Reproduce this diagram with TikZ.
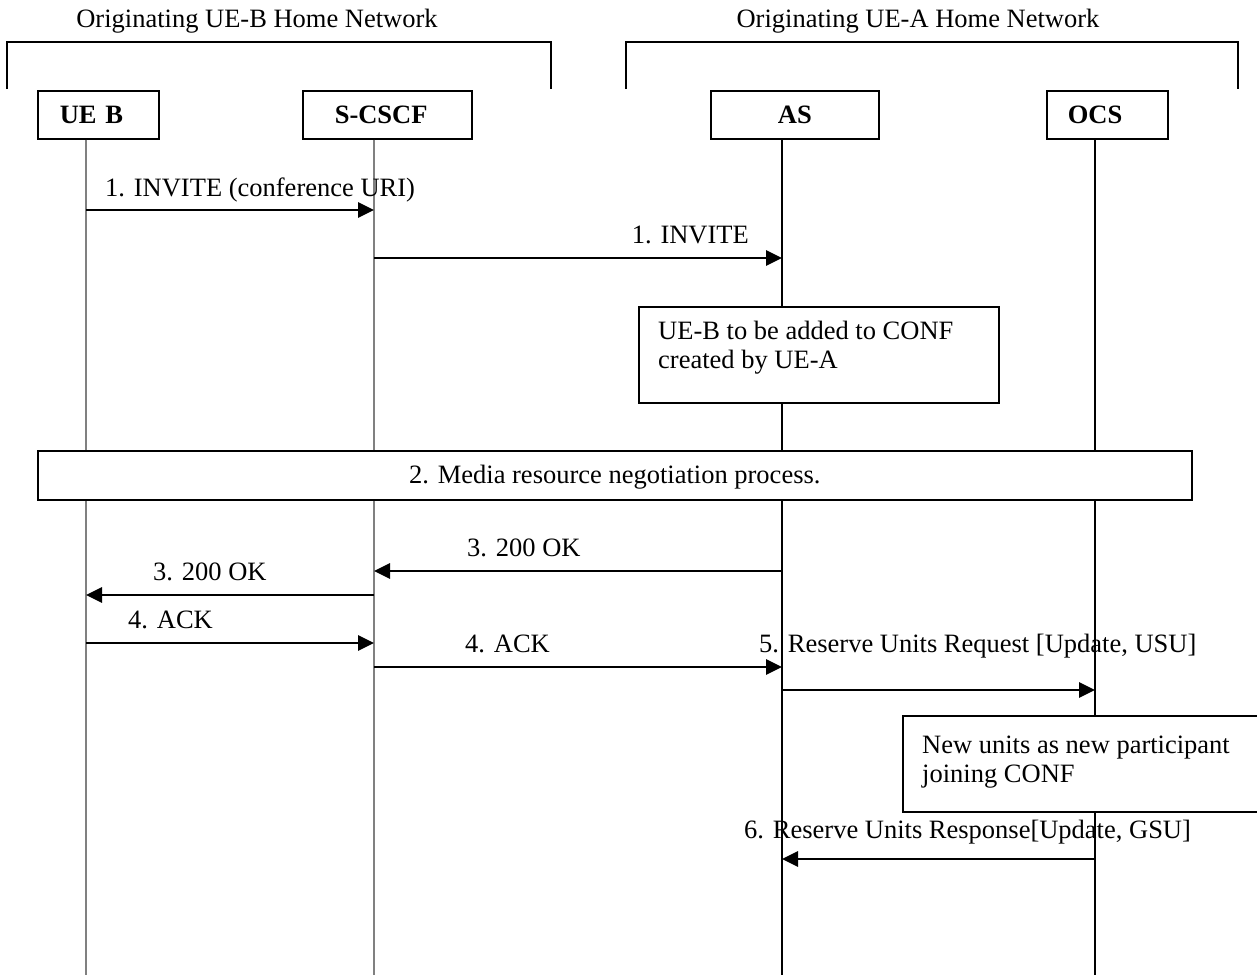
\documentclass[tikz,border=0pt]{standalone}
\usepackage{fontspec}
\setmainfont{Liberation Serif}
\usetikzlibrary{arrows.meta}
\begin{document}
\begin{tikzpicture}[x=1pt,y=-1pt,
  txt/.style={font=\fontsize{26.5}{29}\selectfont, inner sep=0pt},
  entity/.style={draw, line width=1.6pt, minimum height=48pt, inner ysep=0pt, anchor=north west, font=\fontsize{26.5}{29}\selectfont\bfseries, align=left},
  frame/.style={draw, fill=white, line width=1.6pt, inner sep=0pt, font=\fontsize{26.5}{29}\selectfont},
  bracket/.style={line width=1.6pt},
  lifegray/.style={line width=1.2pt, draw=black!50},
  lifeblack/.style={line width=1.6pt},
  msg/.style={line width=2.8pt, -{Triangle[length=16pt,width=15pt]}},
]
\useasboundingbox (0,0) rectangle (1257,975);

% network brackets and titles
\draw[bracket] (7,89) -- (7,42) -- (551,42) -- (551,89);
\draw[bracket] (626,89) -- (626,42) -- (1238,42) -- (1238,89);
\node[txt, anchor=base] (hb) at (257,27) {Originating UE-B Home Network};
\node[txt, anchor=base] (ha) at (918,27) {Originating UE-A Home Network};

% entities
\node[entity, inner xsep=22pt, text width=77pt] (ueb) at (37,90) {UE B};
\node[entity, inner xsep=32pt, text width=105pt] (scscf) at (302,90) {S-CSCF};
\node[entity, inner xsep=10pt, text width=148pt, align=center] (as) at (710,90) {AS};
\node[entity, inner xsep=21pt, text width=79pt] (ocs) at (1046,90) {OCS};

% lifelines
\coordinate (ubot) at (86,975);
\coordinate (sbot) at (374,975);
\coordinate (abot) at (782,975);
\coordinate (obot) at (1095,975);
\draw[lifegray] (ubot |- ueb.south) -- (ubot);
\draw[lifegray] (sbot |- scscf.south) -- (sbot);
\draw[lifeblack] (abot |- as.south) -- (abot);
\draw[lifeblack] (obot |- ocs.south) -- (obot);

% notes
\node[frame, anchor=north west, minimum width=360pt, minimum height=96pt] (n1) at (638,306) {};
\node[txt, anchor=north west, align=left] (n1t) at (658,321) {UE-B to be added to CONF\\created by UE-A};
\node[frame, anchor=north west, minimum width=370pt, minimum height=96pt] (n2) at (902,715) {};
\node[txt, anchor=north west, align=left] (n2t) at (922,736) {New units as new participant\\joining CONF};
\node[frame, anchor=north west, minimum width=1154pt, minimum height=49pt, text depth=2pt] (media) at (37,450) {2. Media resource negotiation process.};

% message end points
\coordinate (u1) at (86,210);   \coordinate (s1) at (374,210);
\coordinate (s2) at (374,258);  \coordinate (a2) at (782,258);
\coordinate (a3) at (782,571);  \coordinate (s3) at (374,571);
\coordinate (s4) at (374,595);  \coordinate (u4) at (86,595);
\coordinate (u5) at (86,643);   \coordinate (s5) at (374,643);
\coordinate (s6) at (374,667);  \coordinate (a6) at (782,667);
\coordinate (a7) at (782,690);  \coordinate (o7) at (1095,690);
\coordinate (o8) at (1095,859); \coordinate (a8) at (782,859);

\draw[msg] (u1) -- (s1);
\draw[msg] (s2) -- (a2);
\draw[msg] (a3) -- (s3);
\draw[msg] (s4) -- (u4);
\draw[msg] (u5) -- (s5);
\draw[msg] (s6) -- (a6);
\draw[msg] (a7) -- (o7);
\draw[msg] (o8) -- (a8);

% message labels
\node[txt, anchor=base west] (l1) at (105,196) {1. INVITE (conference URI)};
\node[txt, anchor=base east] (l2) at (749,243) {1. INVITE};
\node[txt, anchor=base west] (l3) at (467,556) {3. 200 OK};
\node[txt, anchor=base west] (l4) at (153,580) {3. 200 OK};
\node[txt, anchor=base west] (l5) at (128,628) {4. ACK};
\node[txt, anchor=base west] (l6) at (465,652) {4. ACK};
\node[txt, anchor=base west] (l7) at (759,652) {5. Reserve Units Request [Update, USU]};
\node[txt, anchor=base west] (l8) at (744,838) {6. Reserve Units Response[Update, GSU]};
\end{tikzpicture}
\end{document}
